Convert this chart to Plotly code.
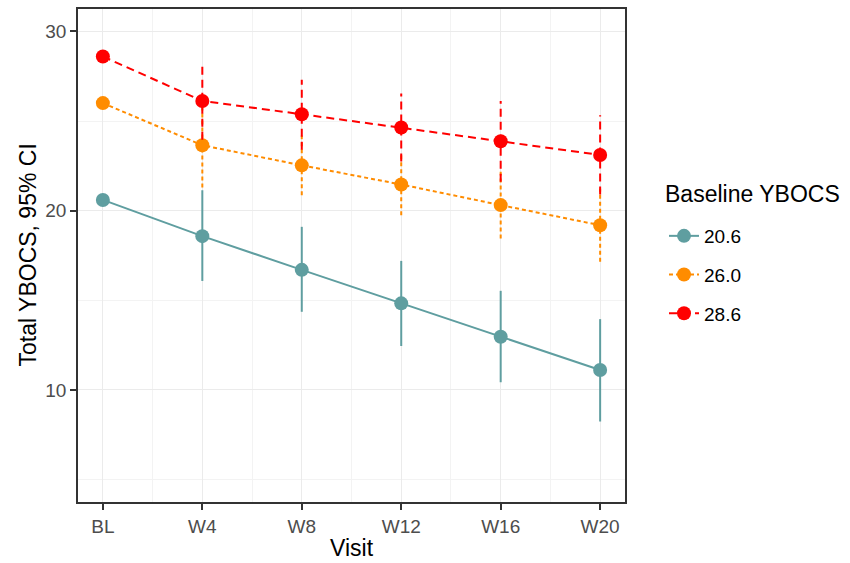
import plotly.graph_objects as go

visits = ["BL", "W4", "W8", "W12", "W16", "W20"]
groups = ["20.6", "26.0", "28.6"]

mean_206 = [20.6, 18.58, 16.70, 14.83, 12.97, 11.11]
lo_206 = [20.6, 16.08, 14.36, 12.45, 10.43, 8.24]
hi_206 = [20.6, 21.14, 19.10, 17.20, 15.53, 13.95]

mean_260 = [26.0, 23.65, 22.53, 21.46, 20.31, 19.19]
lo_260 = [26.0, 21.30, 20.86, 19.75, 18.45, 17.15]
hi_260 = [26.0, 26.00, 24.20, 23.17, 22.17, 21.23]

mean_286 = [28.6, 26.12, 25.38, 24.64, 23.87, 23.11]
lo_286 = [28.6, 23.95, 23.40, 22.75, 21.62, 20.90]
hi_286 = [28.6, 28.29, 27.31, 26.53, 26.12, 25.32]

x_title = "Visit"
y_title = "Total YBOCS, 95% CI"
legend_title = "Baseline YBOCS"

colors = ["#5F9EA0", "#FF8C00", "#FF0000"]
dashes = ["solid", "4px,3px", "8px,5px"]

series = [(mean_206, lo_206, hi_206), (mean_260, lo_260, hi_260), (mean_286, lo_286, hi_286)]
xs = list(range(len(visits)))

fig = go.Figure()
for g, (m, lo, hi), c, d in zip(groups, series, colors, dashes):
    ex, ey = [], []
    for i in xs:
        if hi[i] != lo[i]:
            ex += [i, i, None]
            ey += [lo[i], hi[i], None]
    fig.add_trace(go.Scatter(x=ex, y=ey, mode="lines", line=dict(color=c, width=2, dash=d),
                             showlegend=False, legendgroup=g, hoverinfo="skip"))
    fig.add_trace(go.Scatter(x=xs, y=m, mode="lines+markers", name=g, legendgroup=g,
                             line=dict(color=c, width=2, dash=d),
                             marker=dict(color=c, size=14)))

L, R, T, B = 78, 225, 9, 61
W, H = 850, 563
pw = W - L - R
ph = H - T - B

grid = "#EBEBEB"
fig.update_layout(
    width=W, height=H,
    margin=dict(l=L, r=R, t=T, b=B, autoexpand=False),
    paper_bgcolor="white", plot_bgcolor="white",
    font=dict(family="Liberation Sans, Arial, sans-serif", color="black"),
    showlegend=True,
    legend=dict(
        font=dict(size=19, color="black"),
        x=(664 - L) / pw, xanchor="left", y=(H - B - 217) / ph, yanchor="top",
        traceorder="grouped", tracegroupgap=11, itemwidth=30,
        bgcolor="rgba(0,0,0,0)",
    ),
    xaxis=dict(
        range=[-0.25, 5.25], tickmode="array", tickvals=xs, ticktext=visits,
        showgrid=True, gridcolor=grid, gridwidth=1.2,
        minor=dict(dtick=0.5, tick0=0, showgrid=True, gridcolor="#F3F3F3", gridwidth=0.8, ticklen=0),
        ticks="outside", ticklen=6, tickwidth=1.5, tickcolor="#333333",
        tickfont=dict(size=19, color="#4D4D4D"),
        showline=True, linecolor="#333333", linewidth=1.5, mirror=True,
        zeroline=False, automargin=False,
    ),
    yaxis=dict(
        range=[3.75, 31.25], tickvals=[10, 20, 30],
        showgrid=True, gridcolor=grid, gridwidth=1.2,
        minor=dict(tickvals=[5, 15, 25], showgrid=True, gridcolor="#F3F3F3", gridwidth=0.8, ticklen=0),
        ticks="outside", ticklen=6, tickwidth=1.5, tickcolor="#333333",
        tickfont=dict(size=19, color="#4D4D4D"),
        showline=True, linecolor="#333333", linewidth=1.5, mirror=True,
        zeroline=False, automargin=False,
    ),
    annotations=[
        dict(text=x_title, xref="paper", yref="paper", x=0.5, y=0, yshift=-46,
             xanchor="center", yanchor="middle", showarrow=False,
             font=dict(size=23, color="black")),
        dict(text=y_title, xref="paper", yref="paper", x=0, y=0.5, xshift=-51,
             xanchor="center", yanchor="middle", textangle=-90, showarrow=False,
             font=dict(size=23, color="black")),
        dict(text=legend_title, xref="paper", yref="paper", x=(663 - L) / pw, y=(H - B - 194) / ph,
             xanchor="left", yanchor="middle", showarrow=False,
             font=dict(size=23, color="black")),
    ],
)

fig.write_html("out.html", config={"displayModeBar": False},
               post_script="document.body.style.margin='0';")
